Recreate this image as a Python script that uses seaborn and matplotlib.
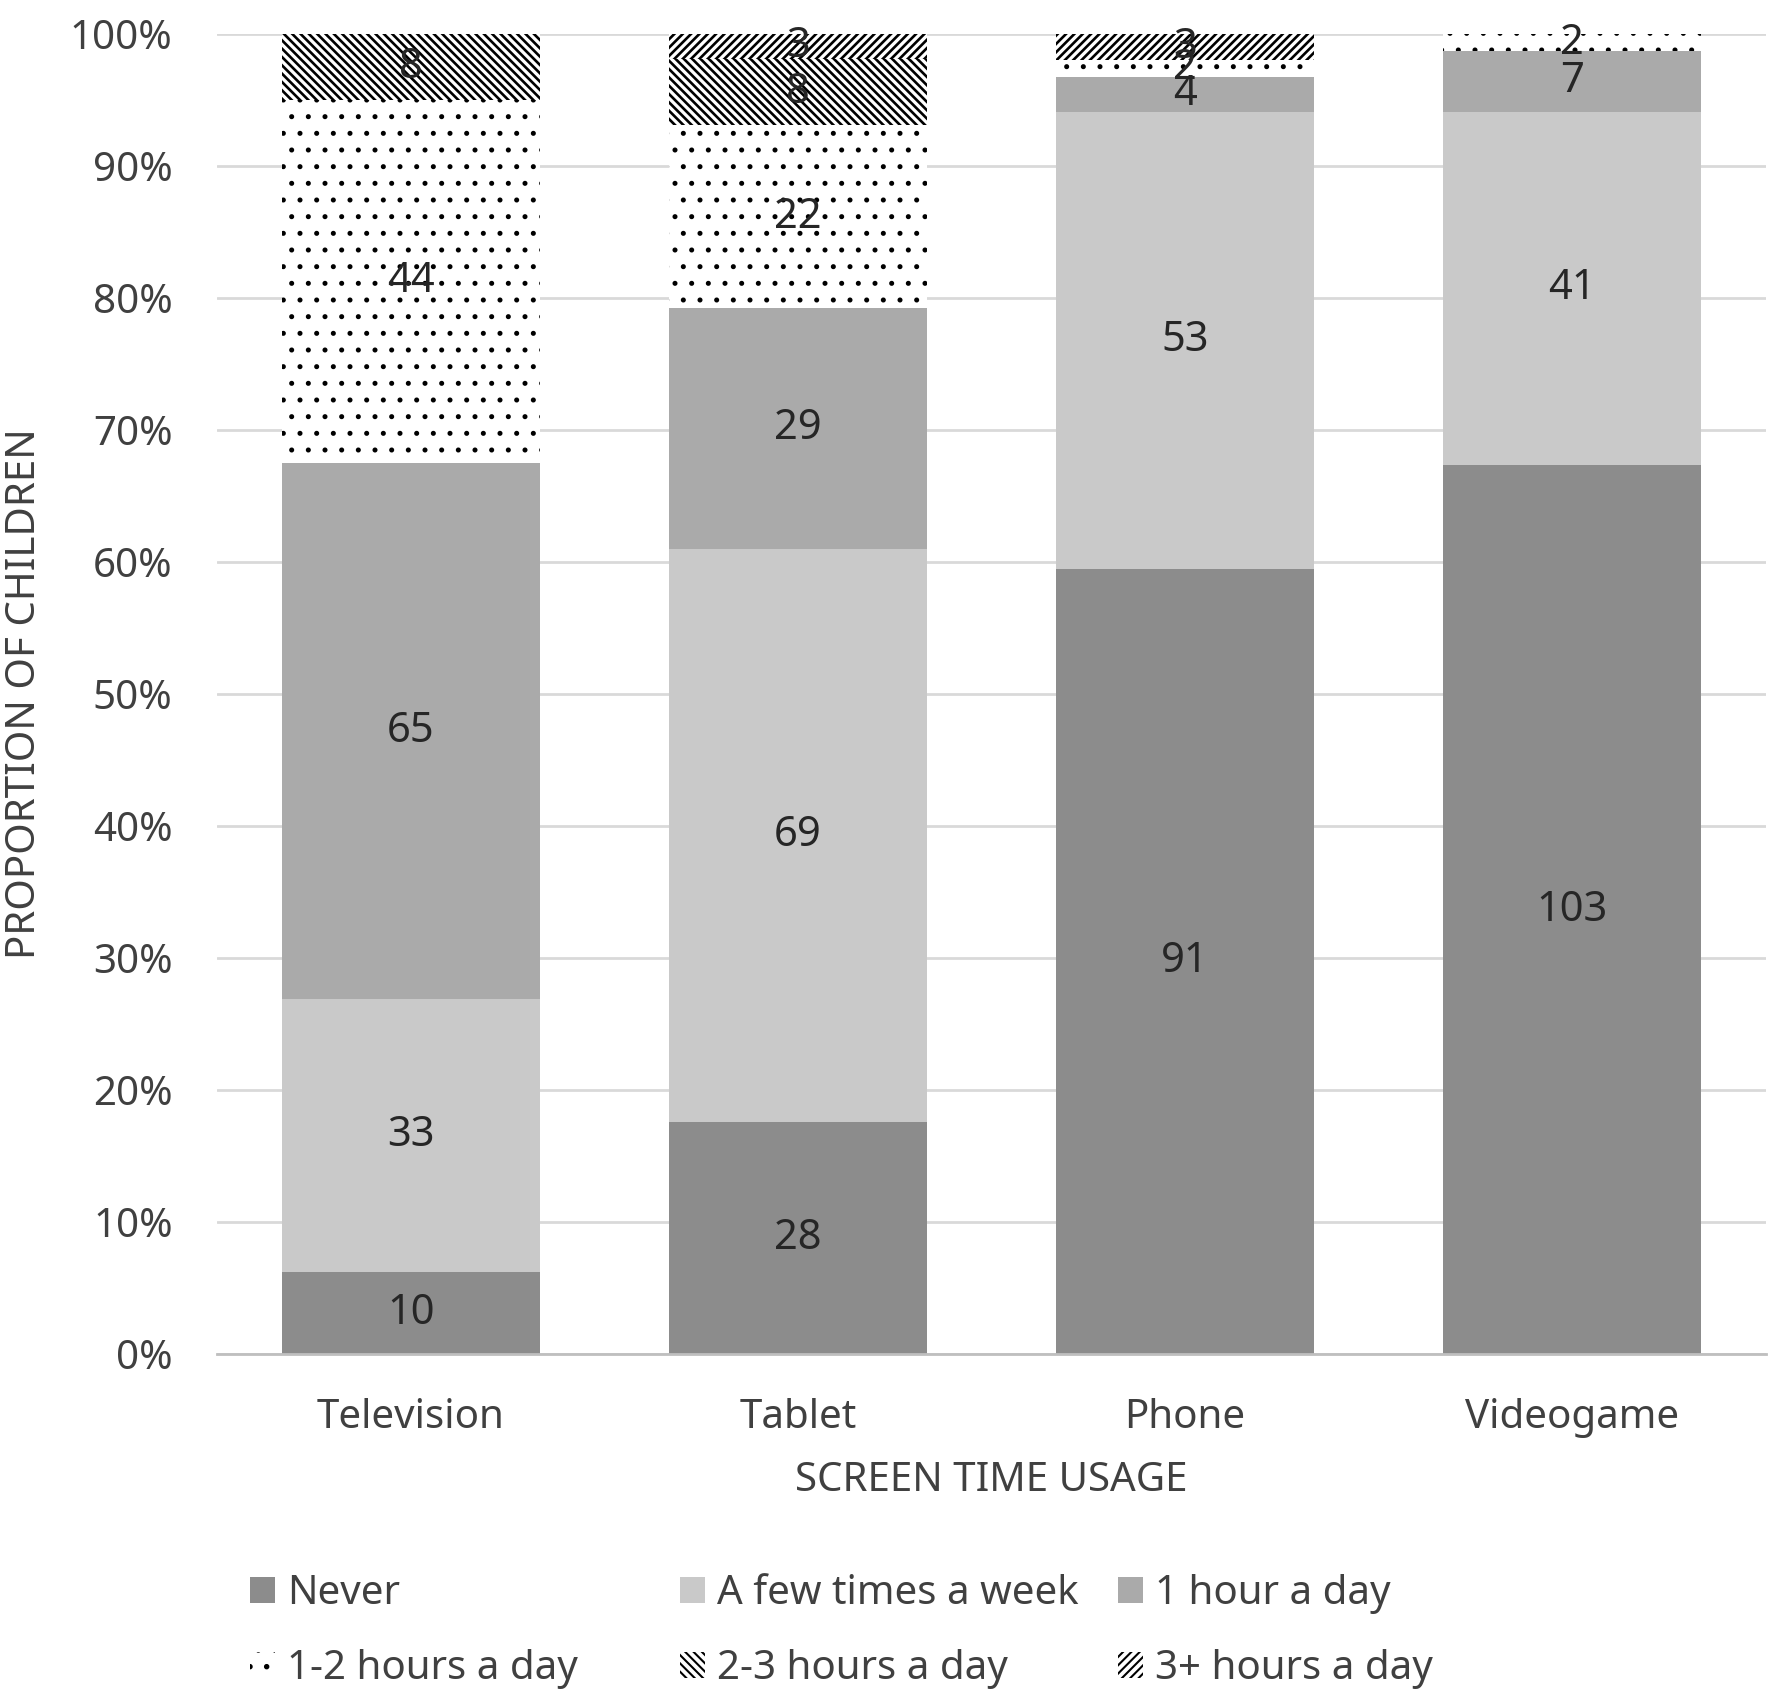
import numpy as np
import pandas as pd
import matplotlib
matplotlib.use("Agg")
import matplotlib.pyplot as plt
from matplotlib.patches import Patch
import seaborn as sns

# counts of children per device and usage level
devices = ["Television", "Tablet", "Phone", "Videogame"]
levels = ["Never", "A few times a week", "1 hour a day",
          "1-2 hours a day", "2-3 hours a day", "3+ hours a day"]
never = [10, 28, 91, 103]
few_week = [33, 69, 53, 41]
one_hour = [65, 29, 4, 7]
one_two = [44, 22, 2, 2]
two_three = [8, 8, 0, 0]
three_plus = [0, 3, 3, 0]
y_ticks = [0, 0.1, 0.2, 0.3, 0.4, 0.5, 0.6, 0.7, 0.8, 0.9, 1.0]

counts = np.array([never, few_week, one_hour, one_two, two_three, three_plus], dtype=float)
props = counts / counts.sum(axis=0)
tops = np.cumsum(props, axis=0)

styles = {
    "Never": dict(color="#8c8c8c", hatch=None, hlw=1.0),
    "A few times a week": dict(color="#c9c9c9", hatch=None, hlw=1.0),
    "1 hour a day": dict(color="#aaaaaa", hatch=None, hlw=1.0),
    "1-2 hours a day": dict(color="white", hatch=".", hlw=1.2),
    "2-3 hours a day": dict(color="white", hatch="\\\\\\\\", hlw=1.9),
    "3+ hours a day": dict(color="white", hatch="////", hlw=1.9),
}

sns.set_theme(style="white")
plt.rcParams["font.family"] = ["Noto Sans", "DejaVu Sans"]
plt.rcParams["hatch.color"] = "black"

fig = plt.figure(figsize=(17.72, 16.94), dpi=100)
ax = fig.add_axes([0.1225, 0.2007, 0.874, 0.7793])

# draw cumulative bars from the top layer down so lower layers cover upper ones
for i in range(len(levels) - 1, -1, -1):
    st = styles[levels[i]]
    plt.rcParams["hatch.linewidth"] = st["hlw"]
    df = pd.DataFrame({"device": devices, "top": tops[i]})
    sns.barplot(data=df, x="device", y="top", ax=ax, color=st["color"],
                saturation=1, width=0.667, hatch=st["hatch"],
                edgecolor="black", linewidth=0, errorbar=None)

# value labels at segment centres
for i in range(len(levels)):
    bottoms = tops[i] - props[i]
    for j in range(len(devices)):
        if counts[i, j] > 0:
            ax.text(j, bottoms[j] + props[i, j] / 2, f"{int(counts[i, j])}",
                    ha="center", va="center", fontsize=30, color="#262626")

ax.set_ylim(0, 1)
ax.set_yticks(y_ticks)
ax.set_yticklabels([f"{int(round(t * 100))}%" for t in y_ticks])
ax.yaxis.grid(True, color="#d9d9d9", linewidth=2)
ax.set_axisbelow(True)
for s in ["top", "right", "left"]:
    ax.spines[s].set_visible(False)
ax.spines["bottom"].set_color("#bfbfbf")
ax.spines["bottom"].set_linewidth(2)
ax.tick_params(axis="both", length=0, labelsize=29, labelcolor="#404040")
ax.tick_params(axis="x", pad=32)
ax.tick_params(axis="y", pad=32)
ax.set_xlabel("SCREEN TIME USAGE", fontsize=29, color="#404040", labelpad=16)
ax.set_ylabel("PROPORTION OF CHILDREN", fontsize=29, color="#404040", labelpad=18)

# legend: three columns placed like the original grid
plt.rcParams["hatch.linewidth"] = 1.5
handles = [Patch(facecolor=styles[l]["color"], hatch=styles[l]["hatch"],
                 edgecolor="black", linewidth=0, label=l) for l in levels]
col_x = [250 / 1772, 680 / 1772, 1118 / 1772]
for k in range(3):
    leg = fig.legend(handles=[handles[k], handles[k + 3]], loc="upper left",
                     bbox_to_anchor=(col_x[k], 1 - 1574 / 1694), frameon=False,
                     fontsize=29, handlelength=0.62, handleheight=0.62,
                     handletextpad=0.3, labelspacing=0.88, borderpad=0,
                     borderaxespad=0, labelcolor="#404040")

fig.savefig("out.png", dpi=100)
